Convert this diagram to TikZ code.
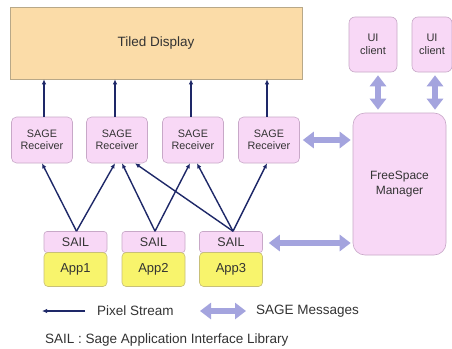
\documentclass[tikz,border=0pt]{standalone}
\usepackage{fontspec}
\setmainfont{Liberation Sans}
\usetikzlibrary{arrows.meta,calc}
\definecolor{peach}{HTML}{FBDCA8}
\definecolor{peachline}{HTML}{B8A888}
\definecolor{pinkfill}{HTML}{F8D8F6}
\definecolor{pinkline}{HTML}{C8A8C8}
\definecolor{appfill}{HTML}{F8F46C}
\definecolor{appline}{HTML}{C8C078}
\definecolor{navy}{HTML}{1E2868}
\definecolor{lav}{HTML}{A4A4DE}
\definecolor{txt}{HTML}{333333}
\begin{document}
\begin{tikzpicture}[x=1pt,y=-1pt,
  box/.style={draw=pinkline,fill=pinkfill,rounded corners=5pt,inner sep=0pt,align=center,text=txt,line width=0.6pt},
  recv/.style={box,minimum width=61pt,minimum height=46pt,font=\fontsize{10.8}{12.5}\selectfont},
  sailbox/.style={box,rounded corners=3pt,minimum width=63pt,minimum height=21pt,font=\fontsize{12.5}{14}\selectfont},
  appbox/.style={draw=appline,fill=appfill,rounded corners=4pt,inner sep=0pt,minimum width=63pt,minimum height=34pt,text=txt,font=\fontsize{13}{15}\selectfont,line width=0.6pt},
  uibox/.style={box,rounded corners=6pt,minimum height=55pt,font=\fontsize{11}{13}\selectfont},
  pix/.style={draw=navy,line width=1.4pt,-{Latex[length=5pt,width=4.5pt]}},
  msg/.style={draw=lav,line width=6pt,{Triangle[length=11pt,width=16pt]}-{Triangle[length=11pt,width=16pt]}},
  lab/.style={text=txt,font=\fontsize{13.5}{16}\selectfont,anchor=west,inner sep=0pt}]
\useasboundingbox (0,0) rectangle (452,348);
\fill[white] (0,0) rectangle (452,348);

\node[draw=peachline,fill=peach,minimum width=292pt,minimum height=72pt,inner sep=0pt,text=txt,font=\fontsize{13.5}{16}\selectfont,line width=0.6pt] (TD) at (156,43) {Tiled Display};

\node[recv] (R1) at (42,140) {SAGE\\Receiver};
\node[recv] (R2) at (117,140) {SAGE\\Receiver};
\node[recv] (R3) at (193,140) {SAGE\\Receiver};
\node[recv] (R4) at (269,140) {SAGE\\Receiver};

\node[sailbox] (S1) at (75.5,242) {SAIL};
\node[sailbox] (S2) at (153.5,242) {SAIL};
\node[sailbox] (S3) at (231,242) {SAIL};
\node[appbox] (A1) at (75.5,269.5) {App1};
\node[appbox] (A2) at (153.5,269.5) {App2};
\node[appbox] (A3) at (231,269.5) {App3};

\node[uibox,minimum width=48pt] (U1) at (373,44.5) {UI\\client};
\node[uibox,minimum width=40pt] (U2) at (432,44.5) {UI\\client};
\node[box,rounded corners=12pt,minimum width=93pt,minimum height=142pt,font=\fontsize{12}{15}\selectfont] (FSM) at (399.5,184) {FreeSpace\\Manager};

% receivers to display
\foreach \r/\dx in {R1/2,R2/-2,R3/-2,R4/-2}
  \draw[pix] ([xshift=\dx pt]\r.north) -- ([xshift=\dx pt]\r.north |- TD.south);

% SAIL to receivers
\draw[pix] ([xshift=1pt]S1.north) -- (R1.south);
\draw[pix] ([xshift=1pt]S1.north) -- ([xshift=-2pt]R2.south);
\draw[pix] ([xshift=1.5pt]S2.north) -- ([xshift=5pt]R2.south);
\draw[pix] ([xshift=1.5pt]S2.north) -- ([xshift=-3pt]R3.south);
\draw[pix] ([xshift=2pt]S3.north) -- ([xshift=18pt]R2.south);
\draw[pix] ([xshift=2pt]S3.north) -- ([xshift=4pt]R3.south);
\draw[pix] ([xshift=2pt]S3.north) -- ([xshift=-2pt]R4.south);

% SAGE messages
\draw[msg] ([xshift=5pt,yshift=-3pt]U1.south) -- ([xshift=5pt,yshift=3pt]U1.south |- FSM.north);
\draw[msg] ([xshift=3pt,yshift=-3pt]U2.south) -- ([xshift=3pt,yshift=3pt]U2.south |- FSM.north);
\draw[msg] ([xshift=3pt]R4.east) -- ([xshift=-2pt]R4.east -| FSM.west);
\draw[msg] ([xshift=6pt,yshift=-1pt]S3.east) -- ([xshift=-2pt,yshift=-1pt]S3.east -| FSM.west);

% legend
\coordinate (L1a) at (85,311);
\coordinate (L1b) at (42,311);
\draw[pix] (L1a) -- (L1b);
\node[lab] (LP) at (97,311) {Pixel Stream};
\coordinate (L2a) at (200,311);
\coordinate (L2b) at (246,311);
\draw[msg] (L2a) -- (L2b);
\node[lab] (LM) at (256,311) {SAGE Messages};
\node[lab] (LS) at (45,340) {SAIL : Sage Application Interface Library};
\end{tikzpicture}
\end{document}
